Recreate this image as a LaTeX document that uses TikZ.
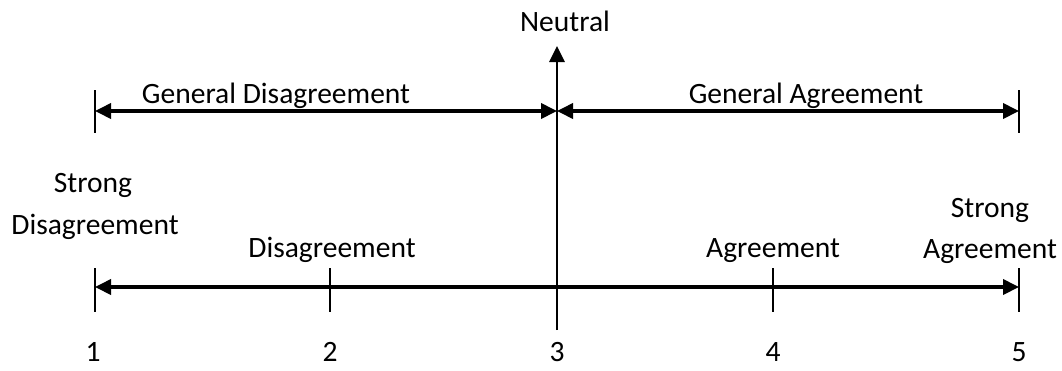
\documentclass[tikz,border=0pt]{standalone}
\usepackage{fontspec}
\setmainfont{Carlito}
\usetikzlibrary{arrows.meta}

\begin{document}
\begin{tikzpicture}[x=0.025cm, y=-0.025cm,
    every node/.style={inner sep=0pt, anchor=base, font=\fontsize{21}{25}\selectfont},
    head/.tip={Triangle[length=0.4cm, width=0.38cm]},
    scaleline/.style={line width=2.2pt, head-head},
    neutralline/.style={line width=1.6pt, -head},
    tickmark/.style={line width=1pt}]
  \useasboundingbox (0,0) rectangle (1062,370);
  % points on the two lines
  \coordinate (g1) at (95,111);
  \coordinate (g3) at (557,111);
  \coordinate (g5) at (1019,111);
  \coordinate (s1) at (95,287);
  \coordinate (s2) at (330,287);
  \coordinate (s4) at (773,287);
  \coordinate (s5) at (1019,287);
  \coordinate (nb) at (557,330);
  \coordinate (nt) at (557,46);
  % ticks
  \draw[tickmark] (g1) ++(0,-21) -- ++(0,43);
  \draw[tickmark] (g5) ++(0,-21) -- ++(0,43);
  \foreach \p in {s1,s2,s4,s5}
    \draw[tickmark] (\p) ++(0,-19) -- ++(0,44);
  % lines
  \draw[scaleline] (g1) -- (g3);
  \draw[scaleline] (g3) -- (g5);
  \draw[scaleline] (s1) -- (s5);
  \draw[neutralline] (nb) -- (nt);
  % labels
  \node (neutral) at (565,31) {Neutral};
  \node (gendis) at (276,103) {General Disagreement};
  \node (genagr) at (806,103) {General Agreement};
  \node (strdis1) at (93,192) {Strong};
  \node (strdis2) at (95,234) {Disagreement};
  \node (dis) at (332,257) {Disagreement};
  \node (agr) at (773,257) {Agreement};
  \node (stragr1) at (990,217) {Strong};
  \node (stragr2) at (990,258) {Agreement};
  \foreach \x/\n in {93/1,330/2,557/3,773/4,1019/5}
    \node (num\n) at (\x,361) {\n};
\end{tikzpicture}
\end{document}
